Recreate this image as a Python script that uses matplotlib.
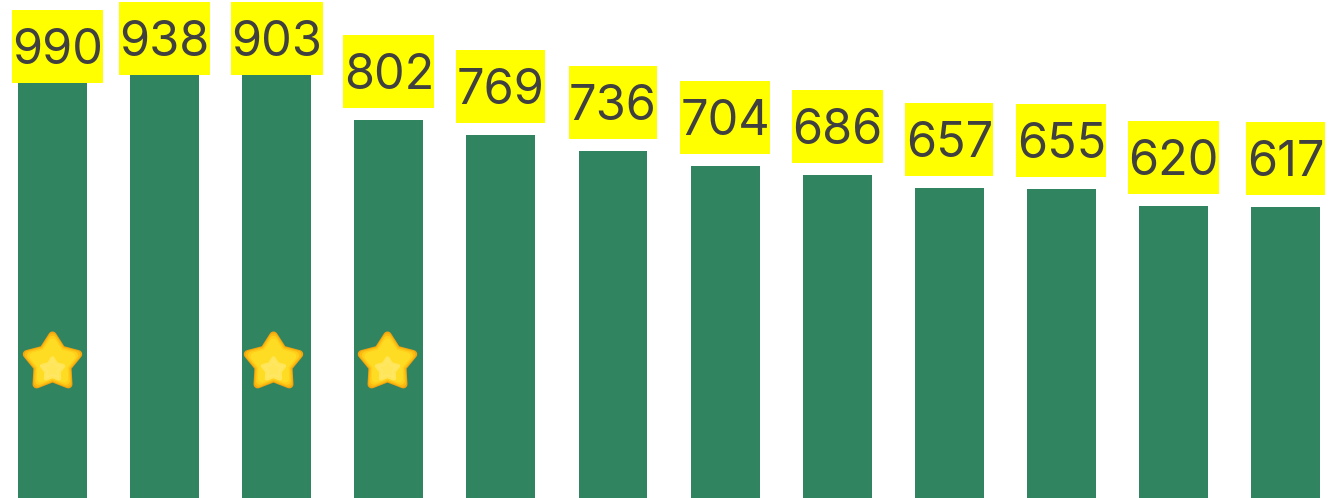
import matplotlib
matplotlib.use('Agg')
import matplotlib.pyplot as plt
import numpy as np
from matplotlib.path import Path
from matplotlib.patches import Rectangle
from matplotlib.transforms import IdentityTransform, ScaledTranslation

# printed labels and the (capped) heights the bars are actually drawn with
labels = ['990', '938', '903', '802', '769', '736', '704', '686', '657', '655', '620', '617']
bar_heights = [880, 897, 897, 802, 770, 736, 704, 685, 657, 655, 619, 617]
label_gaps = [0, 0, 0, 12, 12, 12, 12, 12, 12, 12, 12, 12]
label_shifts = [5, 0, 0, 0, 0, 0, 0, 0, 0, 0, 0, 0]
star_bars = [0, 2, 3]
star_shifts = [0, -4, -2]
star_value = 288

# star layers, outermost first: size, colour
star_sizes = [1500, 1300, 1050, 800]
star_colors = ['#f2a30f', '#fbbc12', '#ffcf1a', '#ffdc24']

BAR_COLOR = '#30845f'
TEXT_COLOR = '#404040'
BOX_HEIGHT = 73
BASELINE = 19

fig = plt.figure(figsize=(13.32, 4.98), dpi=100)
ax = fig.add_axes([0, 0, 1, 1])
ax.set_xlim(-0.468, 11.414)
ax.set_ylim(0, 1056)
ax.axis('off')

x = np.arange(len(labels))
ax.bar(x, bar_heights, width=0.615, color=BAR_COLOR)

# label boxes sized from the rendered text, in pixels
renderer = fig.canvas.get_renderer()
for i, lab in enumerate(labels):
    px, py = ax.transData.transform((x[i], bar_heights[i]))
    px += label_shifts[i]
    bottom = py + label_gaps[i]
    t = ax.text(px, bottom + BASELINE, lab, transform=IdentityTransform(), ha='center',
                va='baseline', family='Inter', fontsize=35, color=TEXT_COLOR, zorder=4)
    ext = t.get_window_extent(renderer)
    ax.add_patch(Rectangle((ext.x0 - 0.5, bottom), ext.width + 1, BOX_HEIGHT, facecolor='#ffff00',
                           edgecolor='none', transform=IdentityTransform(), zorder=3))

# star badges, stacked layers give the glossy look
star = Path.unit_regular_star(5, innerCircle=0.58)
for bar, shift in zip(star_bars, star_shifts):
    offset = ScaledTranslation(shift / 100, 0, fig.dpi_scale_trans)
    trans = ax.transData + offset
    for k, (size, color) in enumerate(zip(star_sizes, star_colors)):
        ax.scatter(x[bar], star_value, marker=star, s=size, color=color, edgecolor=color,
                   linewidth=6, joinstyle='round', transform=trans, zorder=5 + k)
    ax.scatter(x[bar], star_value - 14, marker=star, s=260, color='#ffe866', edgecolor='#ffe866',
               linewidth=3, alpha=0.8, joinstyle='round', transform=trans, zorder=10)

fig.savefig('out.png', dpi=100)
